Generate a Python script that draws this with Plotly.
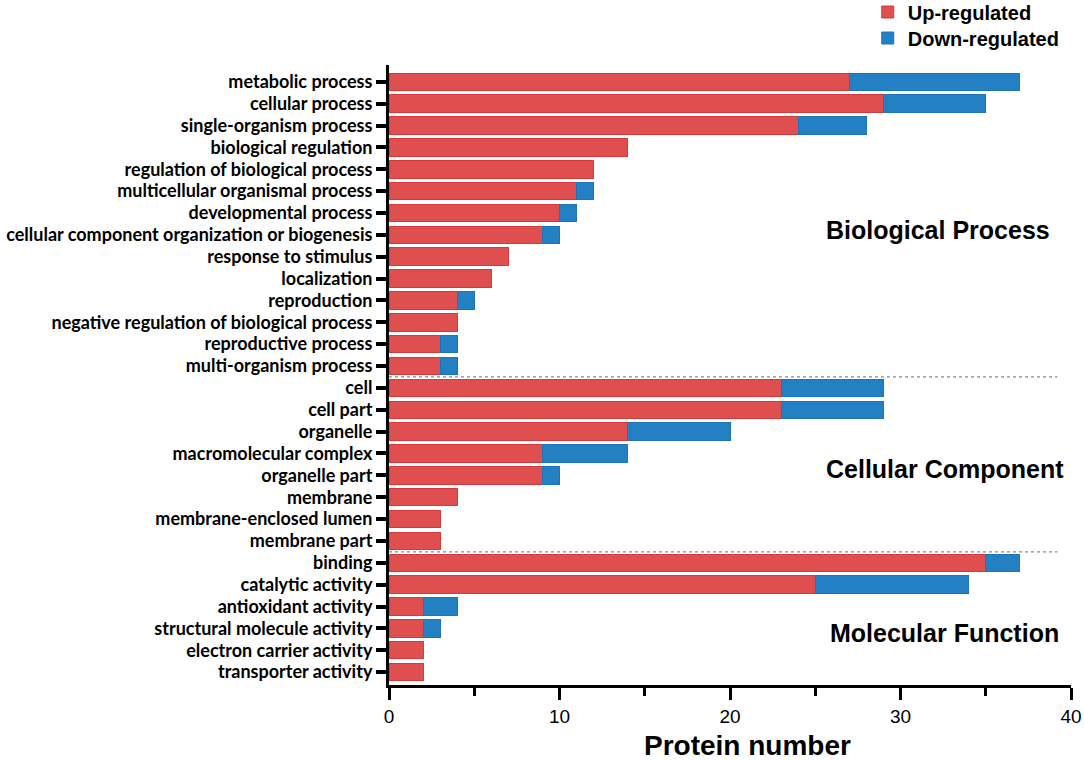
import plotly.graph_objects as go

categories = [
    "metabolic process", "cellular process", "single-organism process",
    "biological regulation", "regulation of biological process",
    "multicellular organismal process", "developmental process",
    "cellular component organization or biogenesis", "response to stimulus",
    "localization", "reproduction", "negative regulation of biological process",
    "reproductive process", "multi-organism process",
    "cell", "cell part", "organelle", "macromolecular complex", "organelle part",
    "membrane", "membrane-enclosed lumen", "membrane part",
    "binding", "catalytic activity", "antioxidant activity",
    "structural molecule activity", "electron carrier activity", "transporter activity",
]
up_regulated = [27, 29, 24, 14, 12, 11, 10, 9, 7, 6, 4, 4, 3, 3,
                23, 23, 14, 9, 9, 4, 3, 3,
                35, 25, 2, 2, 2, 2]
down_regulated = [10, 6, 4, 0, 0, 1, 1, 1, 0, 0, 1, 0, 1, 1,
                  6, 6, 6, 5, 1, 0, 0, 0,
                  2, 9, 2, 1, 0, 0]
section_names = ["Biological Process", "Cellular Component", "Molecular Function"]
section_sizes = [14, 8, 6]
x_ticks = [0, 10, 20, 30, 40]

RED = "#DF4F4F"
BLUE = "#2381C3"
LABEL_FONT = "Lato"
ARIAL = "Liberation Sans, Arial"

fig = go.Figure()
fig.add_trace(go.Bar(
    y=categories, x=up_regulated, orientation="h", name="Up-regulated", legend="legend",
    marker=dict(color=RED, line=dict(color="#D83A3A", width=[1 if v > 0 else 0 for v in up_regulated])),
    width=0.8,
))
fig.add_trace(go.Bar(
    y=categories, x=down_regulated, orientation="h", name="Down-regulated", legend="legend2",
    marker=dict(color=BLUE, line=dict(color="#1F74B5", width=[1 if v > 0 else 0 for v in down_regulated])),
    width=0.8,
))

# dashed separators between sections and section titles
start = 0
for i, (name, size) in enumerate(zip(section_names, section_sizes)):
    if i > 0:
        fig.add_shape(type="line", xref="x", yref="y", x0=0, x1=39.2,
                      y0=start - 0.5, y1=start - 0.5,
                      line=dict(color="#8a8a8a", width=1.3, dash="3px,3px"))
    start += size

section_pos = [(32.2, 6.8), (32.6, 17.7), (32.6, 25.2)]
for name, (sx, sy) in zip(section_names, section_pos):
    fig.add_annotation(x=sx, y=sy, xref="x", yref="y", text="<b>%s</b>" % name,
                       showarrow=False, font=dict(family=ARIAL, size=25, color="black"))

# x-axis title
fig.add_annotation(x=0.526, y=-0.097, xref="paper", yref="paper", text="<b>Protein number</b>",
                   showarrow=False, xanchor="center", yanchor="middle",
                   font=dict(family=ARIAL, size=28, color="black"))

legend_common = dict(x=0.702, xanchor="left", yanchor="middle",
                     font=dict(family=ARIAL, size=20, color="black", weight="bold"),
                     bgcolor="rgba(0,0,0,0)")

n = len(categories)
fig.update_layout(
    barmode="stack",
    width=1084, height=760,
    margin=dict(l=389, r=13, t=65, b=75, autoexpand=False),
    plot_bgcolor="white", paper_bgcolor="white",
    showlegend=True,
    legend=dict(y=1 + (65 - 12) / 620, **legend_common),
    legend2=dict(y=1 + (65 - 38) / 620, **legend_common),
    xaxis=dict(range=[0, 40], tickvals=x_ticks, ticks="outside", ticklen=12, tickwidth=3,
               tickcolor="black", showline=True, linecolor="black", linewidth=3,
               showgrid=False, zeroline=False,
               tickfont=dict(family=ARIAL, size=19, color="black"),
               minor=dict(dtick=5, ticks="outside", ticklen=8, tickwidth=3, tickcolor="black")),
    yaxis=dict(type="category", categoryorder="array", categoryarray=categories,
               tickmode="array", tickvals=categories, ticktext=categories,
               range=[n - 1 + 0.59, -0.77], ticks="outside", ticklen=10, tickwidth=4,
               tickcolor="black", showline=True, linecolor="black", linewidth=3,
               showgrid=False, zeroline=False,
               tickfont=dict(family=LABEL_FONT, size=18, color="black", weight="bold")),
)

fig.write_html("out.html", config={"displayModeBar": False},
               post_script="document.body.style.margin='0';document.body.style.overflow='hidden';")
